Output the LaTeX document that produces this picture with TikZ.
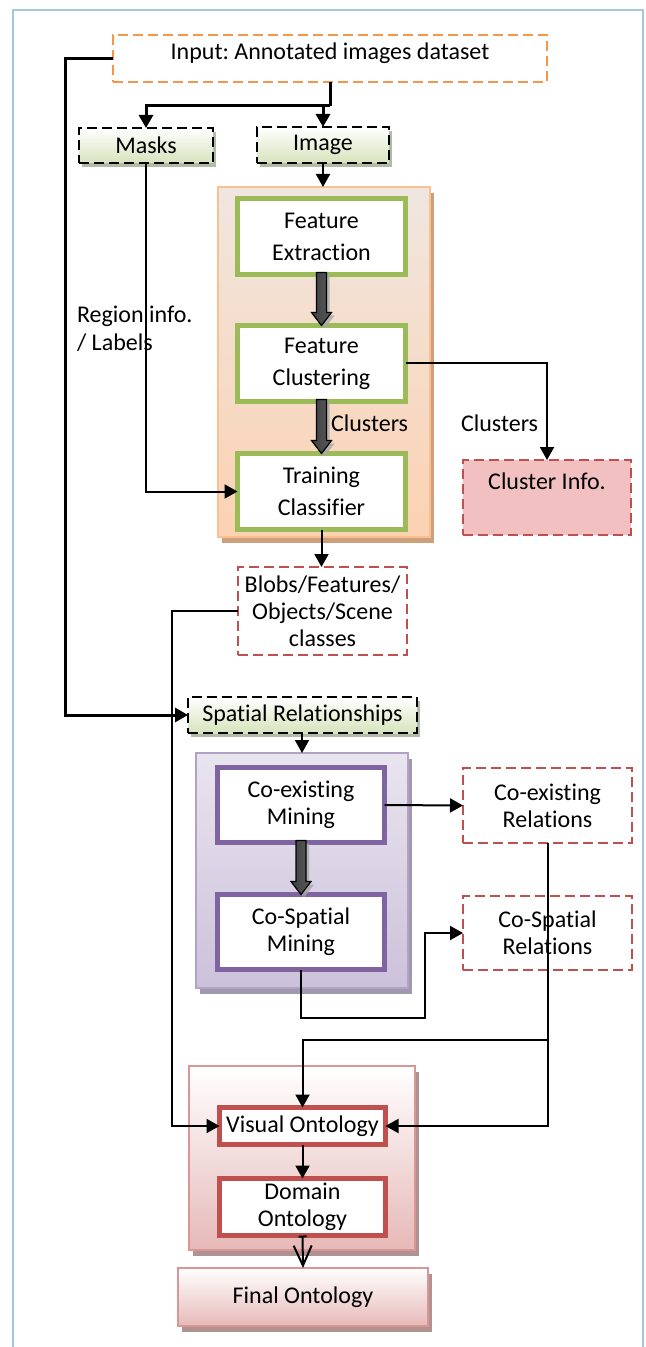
\documentclass[tikz,border=0pt]{standalone}
\usepackage{fontspec}
\setmainfont{Carlito}[Ligatures=NoCommon]
\frenchspacing
\usetikzlibrary{arrows.meta,shadows,calc}
\definecolor{frameblue}{RGB}{166,196,228}
\definecolor{ofcorange}{RGB}{247,150,70}
\definecolor{ofcgreen}{RGB}{155,187,89}
\definecolor{greenlight}{RGB}{214,227,188}
\definecolor{ofcpurple}{RGB}{128,100,162}
\definecolor{ofcred}{RGB}{192,80,77}
\definecolor{orgtop}{RGB}{240,230,224}
\definecolor{orgbot}{RGB}{251,210,178}
\definecolor{orgborder}{RGB}{250,192,144}
\definecolor{orgshadow}{RGB}{205,160,125}
\definecolor{purtop}{RGB}{233,229,239}
\definecolor{purbot}{RGB}{204,193,218}
\definecolor{purborder}{RGB}{179,162,199}
\definecolor{purshadow}{RGB}{160,152,172}
\definecolor{pinkbot}{RGB}{230,185,184}
\definecolor{pinkborder}{RGB}{217,150,148}
\definecolor{pinkshadow}{RGB}{178,145,145}
\definecolor{cifill}{RGB}{242,192,192}
\newcommand\blockarr[2]{%
  \fill[black!35,opacity=0.8] ([shift={(-2,1)}]#1.south) -- ([shift={(-2,-10)}]#2.north) -- ([shift={(-7,-10)}]#2.north) -- ([shift={(3,3)}]#2.north) -- ([shift={(13,-10)}]#2.north) -- ([shift={(8,-10)}]#2.north) -- ([shift={(8,1)}]#1.south) -- cycle;
  \draw[line width=0.6pt, left color=black!75, middle color=black, right color=black!65] ([shift={(-5,-2)}]#1.south) -- ([shift={(-5,-13)}]#2.north) -- ([shift={(-10,-13)}]#2.north) -- (#2.north) -- ([shift={(10,-13)}]#2.north) -- ([shift={(5,-13)}]#2.north) -- ([shift={(5,-2)}]#1.south) -- cycle;
}
\begin{document}
\begin{tikzpicture}[x=0.5pt,y=-0.5pt,
  >={Triangle[length=6.5pt,width=7pt]},
  every node/.style={font=\fontsize{12}{13.5}\selectfont, align=center, inner sep=0pt, outer sep=0pt},
  conn/.style={line width=1pt,->},
  thickconn/.style={line width=1.5pt},
  dashedge/.style={dash pattern=on 5pt off 2.5pt},
  inputbox/.style={draw=ofcorange, line width=1pt, dashedge, minimum width=217pt, minimum height=23.5pt},
  greenbox/.style={draw=black, line width=1.4pt, dashedge, top color=white, bottom color=greenlight,
    drop shadow={shadow xshift=1.5pt, shadow yshift=-2pt, fill=black!25!greenlight, opacity=0.8}},
  orangecont/.style={draw=orgborder, line width=1pt, top color=orgtop, bottom color=orgbot,
    drop shadow={shadow xshift=2pt, shadow yshift=-3pt, fill=orgshadow, opacity=1}},
  purplecont/.style={draw=purborder, line width=1pt, top color=purtop, bottom color=purbot,
    drop shadow={shadow xshift=2pt, shadow yshift=-3pt, fill=purshadow, opacity=1}},
  pinkcont/.style={draw=pinkborder, line width=1pt, top color=white, bottom color=pinkbot,
    drop shadow={shadow xshift=2pt, shadow yshift=-3pt, fill=pinkshadow, opacity=1}},
  greenproc/.style={draw=ofcgreen, line width=2.5pt, fill=white, minimum width=84pt, minimum height=38pt, font=\fontsize{12}{16}\selectfont},
  purpproc/.style={draw=ofcpurple, line width=2.5pt, fill=white, minimum width=83.5pt, minimum height=37.5pt},
  redproc/.style={draw=ofcred, line width=2.5pt, fill=white, minimum width=83pt},
  reddash/.style={draw=ofcred, line width=1.2pt, dashedge, minimum width=84.5pt, minimum height=37.5pt},
]
\useasboundingbox (0,0) rectangle (646,1347);
\draw[frameblue, line width=0.75pt] (13,1347) -- (13,10) -- (643,10) -- (643,1347);

% top
\node[inputbox] (input) at (330,59) {};
\node[anchor=base] (inputt) at (330,60) {Input: Annotated images dataset};
\node[greenbox, minimum width=67pt, minimum height=17.5pt] (masks) at (146,145.5) {Masks};
\node[greenbox, minimum width=66pt, minimum height=18pt] (image) at (323,145) {Image};

% orange container
\node[orangecont, minimum width=106pt, minimum height=175pt] (ocont) at (324,362) {};
\node[greenproc] (fe) at (321.5,236.5) {Feature\\Extraction};
\node[greenproc] (fc) at (321.5,363.5) {Feature\\Clustering};
\node[greenproc] (tc) at (321.5,491.5) {Training\\Classifier};

\node[reddash, fill=cifill, minimum width=84pt] (ci) at (547,497.5) {};
\node[anchor=base] (cit) at (547,489) {Cluster Info.};

\node[reddash, minimum height=44pt] (blobs) at (322.5,611) {Blobs/Features/\\Objects/Scene\\classes};
\node[greenbox, minimum width=114.5pt, minimum height=18pt] (sr) at (302.5,715) {Spatial Relationships};

% purple container
\node[purplecont, minimum width=106pt, minimum height=117.5pt] (pcont) at (302,870.5) {};
\node[purpproc] (cem) at (301,805) {Co-existing\\Mining};
\node[purpproc] (csm) at (301,932) {Co-Spatial\\Mining};
\node[reddash] (cer) at (547.5,805.5) {Co-existing\\Relations};
\node[reddash, minimum height=37pt] (csr) at (547.5,933) {Co-Spatial\\Relations};

% pink container
\node[pinkcont, minimum width=113pt, minimum height=92pt] (kcont) at (302,1158) {};
\node[redproc, minimum height=18.5pt] (vo) at (302.5,1126) {Visual Ontology};
\node[redproc, minimum height=28.5pt] (do) at (302.5,1207) {Domain\\Ontology};
\node[pinkcont, minimum width=125pt, minimum height=29pt] (fo) at (303,1297) {Final Ontology};

% labels
\node[anchor=base west] (reg1) at (77,323) {Region info.};
\node[anchor=base west] (reg2) at (77,351) {/ Labels};
\node[anchor=base west] (clA) at (331,431) {Clusters};
\node[anchor=base west] (clB) at (461,431) {Clusters};

% connectors
\coordinate (split) at (330,106);
\draw[thickconn] (input.south) -- (split);
\draw[thickconn,->] (split) -| (masks.north);
\draw[thickconn,->] (split -| image.north) -- (image.north);
\coordinate (leftbus) at (65,59);
\draw[thickconn,->] (input.west) -- (leftbus) |- (sr.west);
\draw[conn] (image.south) -- (image.south |- ocont.north);
\blockarr{fe}{fc}
\blockarr{fc}{tc}
\draw[conn] (masks.south) |- (tc.west);
\draw[conn] (fc.east) -| (ci.north);
\draw[conn] (tc.south) -- (tc.south |- blobs.north);
\coordinate (bbus) at (172,611);
\draw[conn] (blobs.west) -- (bbus) |- (vo.west);
\draw[conn] (sr.south -| pcont.north) -- (pcont.north);
\blockarr{cem}{csm}
\draw[conn] (cem.east) -- (cer.west);
\coordinate (cs1) at (425,1018);
\draw[conn] (csm.south) |- (cs1) |- (csr.west);
\draw[conn] (cer.south) |- (vo.east);
\coordinate (br) at (547.5,1040);
\draw[conn] (cer.south |- br) -| (vo.north);
\draw[conn] (vo.south) -- (do.north);
\draw[line width=1pt, {Bar[width=4pt]}-{Straight Barb[length=10pt,width=9pt]}] (do.south) -- (fo.north);
\end{tikzpicture}
\end{document}
